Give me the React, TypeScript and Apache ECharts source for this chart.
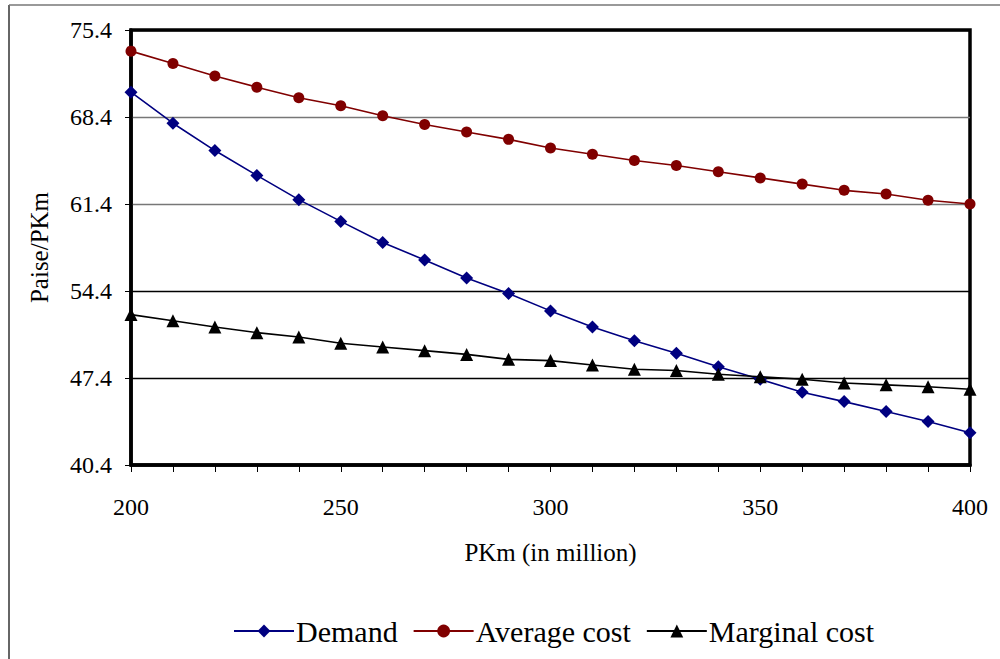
import React, { useEffect, useRef } from "react";
import * as echarts from "echarts";

// PKm in million, every 10 from 200 to 400
const pkm = [
  "200", "210", "220", "230", "240", "250", "260", "270", "280", "290", "300",
  "310", "320", "330", "340", "350", "360", "370", "380", "390", "400",
];

// Paise per PKm
const demand = [
  70.4, 67.9, 65.7, 63.7, 61.75, 60.0, 58.3, 56.9, 55.45, 54.2, 52.8,
  51.5, 50.4, 49.4, 48.3, 47.3, 46.25, 45.5, 44.7, 43.9, 43.0,
];
const averageCost = [
  73.7, 72.7, 71.7, 70.8, 69.95, 69.3, 68.5, 67.8, 67.2, 66.6, 65.9,
  65.4, 64.9, 64.5, 64.0, 63.5, 63.0, 62.5, 62.2, 61.7, 61.4,
];
const marginalCost = [
  52.5, 52.0, 51.5, 51.05, 50.7, 50.2, 49.9, 49.6, 49.3, 48.9, 48.8,
  48.45, 48.1, 48.0, 47.7, 47.5, 47.3, 47.0, 46.85, 46.7, 46.5,
];

const yMin = 40.4;
const yMax = 75.4;
const yStep = 7;

const FONT = "Liberation Serif";

export default function App() {
  const ref = useRef<HTMLDivElement>(null);

  useEffect(() => {
    if (!ref.current) return;
    const chart = echarts.init(ref.current, undefined, { renderer: "svg" });
    chart.setOption({
      animation: false,
      backgroundColor: "#fff",
      textStyle: { fontFamily: FONT, color: "#000" },
      graphic: [
        {
          type: "line",
          shape: { x1: 9, y1: 5, x2: 9, y2: 659 },
          style: { stroke: "#333", lineWidth: 1.5 },
        },
        {
          type: "line",
          shape: { x1: 9, y1: 5, x2: 1000, y2: 5 },
          style: { stroke: "#777", lineWidth: 1.5 },
        },
      ],
      grid: {
        left: 131,
        top: 30,
        right: 30,
        bottom: 194,
        show: true,
        borderColor: "#000",
        borderWidth: 3.5,
        backgroundColor: "transparent",
      },
      legend: {
        left: 228,
        top: 611,
        itemWidth: 60,
        itemHeight: 16,
        itemGap: 15,
        textStyle: { fontFamily: FONT, fontSize: 30, color: "#000", padding: [0, 0, 0, -3] },
        data: ["Demand", "Average cost", "Marginal cost"],
      },
      xAxis: {
        type: "category",
        data: pkm,
        boundaryGap: false,
        name: "PKm (in million)",
        nameLocation: "middle",
        nameGap: 75,
        nameTextStyle: { fontFamily: FONT, fontSize: 25, color: "#000" },
        axisLine: { show: true, lineStyle: { color: "#000", width: 3.5 } },
        axisTick: { show: true, interval: 0, length: 7, lineStyle: { color: "#000", width: 1 } },
        axisLabel: {
          interval: 4,
          margin: 30,
          fontFamily: FONT,
          fontSize: 24,
          color: "#000",
        },
        splitLine: { show: false },
      },
      yAxis: {
        type: "value",
        min: yMin,
        max: yMax,
        interval: yStep,
        name: "Paise/PKm",
        nameLocation: "middle",
        nameGap: 79,
        nameTextStyle: { fontFamily: FONT, fontSize: 25, color: "#000" },
        axisLine: { show: true, lineStyle: { color: "#000", width: 3.5 } },
        axisTick: { show: true, length: 6, lineStyle: { color: "#000", width: 1 } },
        axisLabel: {
          margin: 19,
          fontFamily: FONT,
          fontSize: 24,
          color: "#000",
          formatter: (v: number) => v.toFixed(1),
        },
        splitLine: {
          show: true,
          lineStyle: {
            color: ["#000", "#000", "#000", "#777", "#777", "#000"],
            width: 1.3,
          },
        },
      },
      series: [
        {
          name: "Demand",
          type: "line",
          data: demand,
          symbol: "diamond",
          symbolSize: 13,
          lineStyle: { color: "#000080", width: 1.6 },
          itemStyle: { color: "#000080" },
          z: 3,
        },
        {
          name: "Average cost",
          type: "line",
          data: averageCost,
          symbol: "circle",
          symbolSize: 11,
          lineStyle: { color: "#800000", width: 1.6 },
          itemStyle: { color: "#800000" },
          z: 3,
        },
        {
          name: "Marginal cost",
          type: "line",
          data: marginalCost,
          symbol: "triangle",
          symbolSize: 13,
          lineStyle: { color: "#000", width: 1.6 },
          itemStyle: { color: "#000" },
          z: 4,
        },
      ],
    });
    return () => chart.dispose();
  }, []);

  return (
    <div
      ref={ref}
      style={{ position: "fixed", left: 0, top: 0, width: 1000, height: 659 }}
    />
  );
}
